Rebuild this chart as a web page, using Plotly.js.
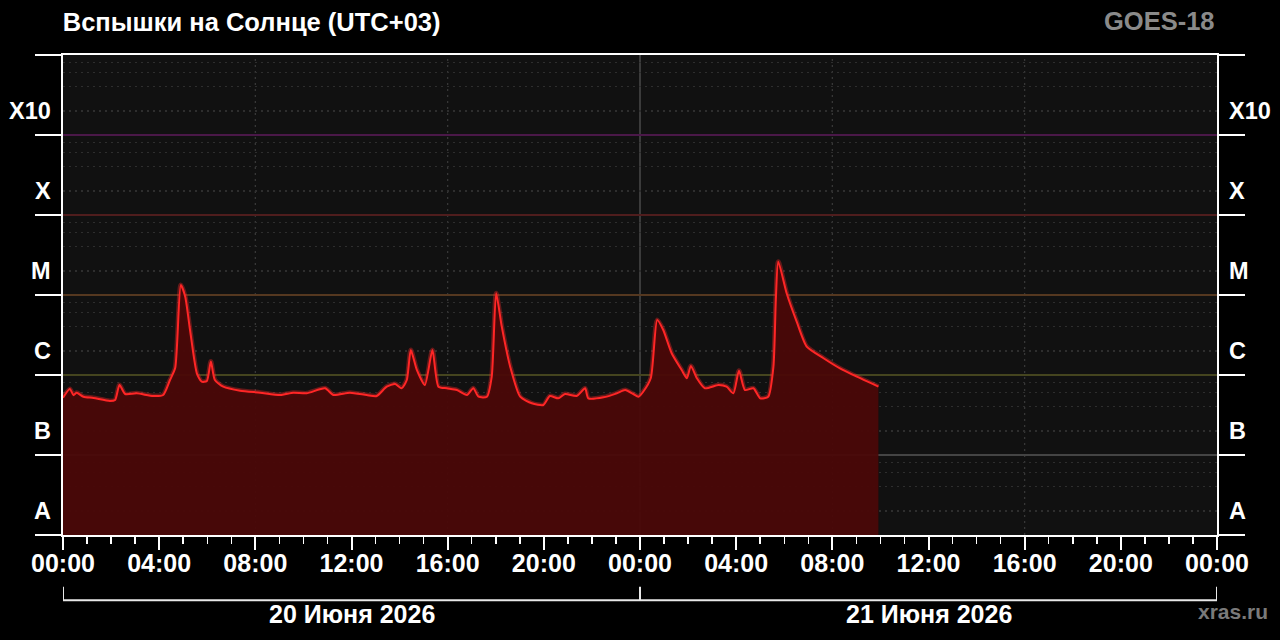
<!DOCTYPE html>
<html>
<head>
<meta charset="utf-8">
<script src="https://cdn.plot.ly/plotly-3.0.1.min.js"></script>
<style>
html,body{margin:0;padding:0;background:#000;}
#chart{width:1280px;height:640px;}
</style>
</head>
<body>
<div id="chart"></div>
<script>
// ---- data (GOES-18 X-ray flux, W/m^2, UTC+03) ----
const times = [
 "2026-06-20 00:00","2026-06-20 00:17","2026-06-20 00:26","2026-06-20 00:34","2026-06-20 00:51",
 "2026-06-20 01:16","2026-06-20 01:57","2026-06-20 02:10","2026-06-20 02:21","2026-06-20 02:35",
 "2026-06-20 03:04","2026-06-20 03:45","2026-06-20 04:10","2026-06-20 04:27","2026-06-20 04:40",
 "2026-06-20 04:54","2026-06-20 05:05","2026-06-20 05:17","2026-06-20 05:34","2026-06-20 05:46",
 "2026-06-20 05:59","2026-06-20 06:09","2026-06-20 06:19","2026-06-20 06:40","2026-06-20 07:22",
 "2026-06-20 08:12","2026-06-20 09:02","2026-06-20 09:35","2026-06-20 10:08","2026-06-20 10:54",
 "2026-06-20 11:15","2026-06-20 11:56","2026-06-20 12:38","2026-06-20 13:03","2026-06-20 13:28",
 "2026-06-20 13:49","2026-06-20 14:05","2026-06-20 14:18","2026-06-20 14:28","2026-06-20 14:43",
 "2026-06-20 15:03","2026-06-20 15:22","2026-06-20 15:37","2026-06-20 15:58","2026-06-20 16:23",
 "2026-06-20 16:48","2026-06-20 17:04","2026-06-20 17:17","2026-06-20 17:38","2026-06-20 17:50",
 "2026-06-20 18:01","2026-06-20 18:15","2026-06-20 18:36","2026-06-20 19:01","2026-06-20 19:30",
 "2026-06-20 19:59","2026-06-20 20:15","2026-06-20 20:36","2026-06-20 20:53","2026-06-20 21:22",
 "2026-06-20 21:43","2026-06-20 21:51","2026-06-20 22:29","2026-06-20 23:02","2026-06-20 23:23",
 "2026-06-20 23:43","2026-06-20 23:56",
 "2026-06-21 00:08","2026-06-21 00:27","2026-06-21 00:43","2026-06-21 00:58","2026-06-21 01:19",
 "2026-06-21 01:44","2026-06-21 01:57","2026-06-21 02:07","2026-06-21 02:22","2026-06-21 02:42",
 "2026-06-21 03:16","2026-06-21 03:36","2026-06-21 03:53","2026-06-21 04:07","2026-06-21 04:22",
 "2026-06-21 04:43","2026-06-21 05:00","2026-06-21 05:20","2026-06-21 05:33","2026-06-21 05:39",
 "2026-06-21 05:45","2026-06-21 06:06","2026-06-21 06:31","2026-06-21 06:56","2026-06-21 07:38",
 "2026-06-21 08:19","2026-06-21 09:01","2026-06-21 09:55"
];
const flux = [
 5.2e-7,6.7e-7,5.6e-7,6.0e-7,5.35e-7,
 5.16e-7,4.73e-7,4.87e-7,7.5e-7,5.79e-7,
 5.9e-7,5.46e-7,5.62e-7,8.66e-7,1.22e-6,
 1.33e-5,9.5e-6,3.65e-6,1.05e-6,8.25e-7,
 8.4e-7,1.47e-6,8.66e-7,7.14e-7,6.36e-7,
 6.01e-7,5.62e-7,6.01e-7,5.9e-7,6.82e-7,
 5.62e-7,6.01e-7,5.62e-7,5.46e-7,7.14e-7,
 7.72e-7,6.82e-7,8.66e-7,2.05e-6,1.155e-6,
 7.5e-7,2.05e-6,7.14e-7,6.82e-7,6.49e-7,
 5.62e-7,6.82e-7,5.35e-7,5.35e-7,9.52e-7,
 1.05e-5,4.02e-6,1.27e-6,5.35e-7,4.43e-7,
 4.22e-7,5.46e-7,5.11e-7,5.79e-7,5.46e-7,
 6.82e-7,5.11e-7,5.26e-7,5.9e-7,6.49e-7,
 5.79e-7,5.35e-7,
 6.18e-7,9.17e-7,4.87e-6,3.65e-6,1.87e-6,
 1.155e-6,9.09e-7,1.3e-6,9.09e-7,6.82e-7,
 7.5e-7,7.14e-7,5.9e-7,1.13e-6,6.49e-7,
 6.82e-7,5.11e-7,5.35e-7,1.27e-6,8.66e-6,
 2.61e-5,1.05e-5,4.64e-6,2.26e-6,1.62e-6,
 1.21e-6,9.52e-7,7.14e-7
];

// flare classes (lower bound of each class band)
const classNames  = ["A","B","C","M","X","X10"];
const classFloors = [1e-8,1e-7,1e-6,1e-5,1e-4,1e-3];
const axisTop     = 1e-2;
const classLineColors = ["#444444","#45451f","#553820","#4f1d1d","#4a1848"]; // B,C,M,X,X10 floors

// x axis ticks
const xStart = "2026-06-20 00:00";
const xEnd   = "2026-06-22 00:00";
const xTickVals = ["2026-06-20 00:00","2026-06-20 04:00","2026-06-20 08:00","2026-06-20 12:00",
  "2026-06-20 16:00","2026-06-20 20:00","2026-06-21 00:00","2026-06-21 04:00","2026-06-21 08:00",
  "2026-06-21 12:00","2026-06-21 16:00","2026-06-21 20:00","2026-06-22 00:00"];
const xTickText = ["00:00","04:00","08:00","12:00","16:00","20:00","00:00","04:00","08:00",
  "12:00","16:00","20:00","00:00"];
const gridVals = ["2026-06-20 08:00","2026-06-20 16:00","2026-06-21 08:00","2026-06-21 16:00"];
const dayBoundary = "2026-06-21 00:00";
const dayLabels = ["20 Июня 2026","21 Июня 2026"];
const dayCenters = ["2026-06-20 12:00","2026-06-21 12:00"];
const dayEdges = ["2026-06-20 00:00","2026-06-21 00:00","2026-06-22 00:00"];
const minorMultipliers = [2,4,6,8];

const titleText = "Вспышки на Солнце (UTC+03)";
const satText = "GOES-18";
const siteText = "xras.ru";

// ---- build ----
const FONT = "Liberation Sans, Arial, sans-serif";
const boldFont = (size, color) => ({family: FONT, size: size, color: color, weight: "bold"});

const decadeTicks = classFloors.concat([axisTop]);
const minorVals = [];
classFloors.forEach(f => minorMultipliers.forEach(m => minorVals.push(f*m)));

const traces = [];
classFloors.slice(1).forEach((f,i) => {
  traces.push({x:[xStart,xEnd], y:[f,f], mode:"lines", line:{color:classLineColors[i], width:2},
    hoverinfo:"skip", showlegend:false});
});
traces.push({
  x: times, y: flux, mode: "lines", line: {color: "rgba(255,40,40,0.35)", width: 5, shape:"spline", smoothing:0.6},
  hoverinfo:"skip", showlegend: false
});
traces.push({
  x: times, y: flux, mode: "lines", line: {color: "#ff2626", width: 2, shape:"spline", smoothing:0.6},
  fill: "tozeroy", fillcolor: "rgba(74,7,7,0.94)", showlegend: false
});

const shapes = [];
gridVals.forEach(g => shapes.push({type:"line", xref:"x", yref:"paper", x0:g, x1:g, y0:0, y1:1,
   line:{color:"#3a3a3a", width:1.2, dash:"2px,4px"}, layer:"below"}));
shapes.push({type:"line", xref:"x", yref:"paper", x0:dayBoundary, x1:dayBoundary, y0:0, y1:1,
   line:{color:"#4a4a4a", width:1.5}, layer:"below"});
shapes.push({type:"line", xref:"x", yref:"paper", x0:dayEdges[0], x1:dayEdges[2], y0:-0.136, y1:-0.136,
   line:{color:"#e8e8e8", width:2}});
dayEdges.forEach(d => shapes.push({type:"line", xref:"x", yref:"paper", x0:d, x1:d, y0:-0.136, y1:-0.108,
   line:{color:"#e8e8e8", width:2}}));

const annotations = dayLabels.map((t,i) => ({text:t, x:dayCenters[i], xref:"x", y:-0.165, yref:"paper",
   showarrow:false, font:boldFont(25,"#ffffff"), xanchor:"center", yanchor:"middle"}));
// class labels, placed in the lower part of each band on both sides
classNames.forEach((n,i) => {
  const yl = Math.log10(classFloors[i]*2);
  annotations.push({text:n, xref:"paper", x:-0.0085, xanchor:"right", yref:"y", y:yl, yanchor:"middle",
    showarrow:false, font:boldFont(23.5,"#ffffff")});
  annotations.push({text:n, xref:"paper", x:1.0085, xanchor:"left", yref:"y", y:yl, yanchor:"middle",
    showarrow:false, font:boldFont(23.5,"#ffffff")});
});
annotations.push({text:satText, x:1, xref:"paper", xanchor:"right", y:1.07, yref:"paper", yanchor:"middle",
   showarrow:false, font:boldFont(25.5,"#8a8a8a")});
annotations.push({text:siteText, x:1.0135, xref:"paper", xanchor:"center", y:-0.16, yref:"paper", yanchor:"middle",
   showarrow:false, font:boldFont(21,"#7a7a7a")});

const layout = {
  width:1280, height:640,
  paper_bgcolor:"#000000", plot_bgcolor:"#111111",
  margin:{l:63, r:63, t:55, b:105},
  title:{text:titleText, x:0.049, xanchor:"left", xref:"container", y:0.965, yanchor:"middle",
         font:boldFont(25.5,"#ffffff")},
  showlegend:false,
  xaxis:{type:"date", range:[xStart,xEnd], tickmode:"array", tickvals:xTickVals, ticktext:xTickText,
    ticks:"outside", ticklen:13, tickwidth:2, tickcolor:"#ffffff", ticklabelstandoff:-8,
    showline:true, linecolor:"#ffffff", linewidth:2, mirror:true, showgrid:false, zeroline:false,
    tickfont:boldFont(25,"#ffffff"), fixedrange:true,
    minor:{dtick:3600000, ticks:"outside", ticklen:7, tickwidth:1.5, tickcolor:"#ffffff", showgrid:false}},
  yaxis:{type:"log", range:[-8,-2], zeroline:false, tickmode:"array", tickvals:decadeTicks, showticklabels:false,
    ticks:"outside", ticklen:26, tickwidth:2, tickcolor:"#ffffff",
    showline:true, linecolor:"#ffffff", linewidth:2, mirror:"ticks", showgrid:false, fixedrange:true,
    minor:{tickmode:"array", tickvals:minorVals, ticks:"", showgrid:true, gridcolor:"#2e2e2e", gridwidth:1.2, griddash:"2px,4px"}},
  shapes:shapes,
  annotations:annotations
};

Plotly.newPlot("chart", traces, layout, {displayModeBar:false, staticPlot:true});
</script>
</body>
</html>
